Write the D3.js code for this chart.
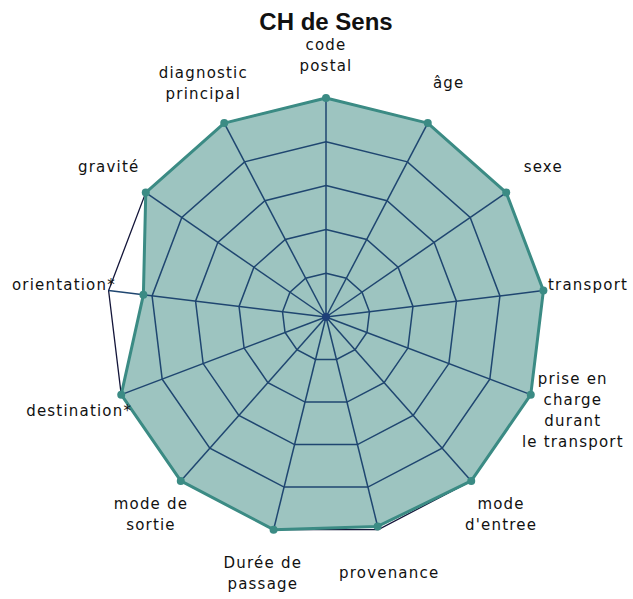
<!DOCTYPE html>
<html>
<head>
<meta charset="utf-8">
<script src="https://cdn.jsdelivr.net/npm/d3@7"></script>
<style>
  body { margin: 0; background: #fff; }
  svg text { font-family: "DejaVu Sans", Verdana, sans-serif; }
</style>
</head>
<body>
<div id="chart"></div>
<script>
// chart data
const title = "CH de Sens";
const axisLabels = [
    ["code", "postal"],
    ["âge"],
    ["sexe"],
    ["transport"],
    ["prise en", "charge", "durant", "le transport"],
    ["mode", "d'entree"],
    ["provenance"],
    ["Durée de", "passage"],
    ["mode de", "sortie"],
    ["destination*"],
    ["orientation*"],
    ["gravité"],
    ["diagnostic", "principal"]
];
const values = [1, 1, 1, 1, 1, 1, 0.985, 1, 1, 1, 0.84, 1, 1];
const ringLevels = [0.2, 0.4, 0.6, 0.8, 1];

// dimensions
const width = 633;
const height = 599;
const cx = 326;
const cy = 317;
const radius = 219;
const labelGap = 45;
const lineHeight = 21;

const svg = d3.select("#chart")
    .append("svg")
    .attr("width", width)
    .attr("height", height);

const g = svg.append("g")
    .attr("transform", "translate(" + cx + "," + cy + ")");

const r = d3.scaleLinear().domain([0, 1]).range([0, radius]);
const angle = d3.scaleLinear().domain([0, axisLabels.length]).range([0, 2 * Math.PI]);

const radial = d3.lineRadial()
    .angle(function (d, i) { return angle(i) })
    .radius(function (d) { return r(d) })
    .curve(d3.curveLinearClosed);

function point(i, v) {
    const a = angle(i);
    return [r(v) * Math.sin(a), -r(v) * Math.cos(a)];
}

// filled area
g.append("path")
    .datum(values)
    .attr("d", radial)
    .attr("fill", "#9dc4c0");

// grid rings
g.selectAll(".ring")
    .data(ringLevels).enter()
    .append("path")
    .attr("class", "ring")
    .attr("d", function (lv) { return radial(axisLabels.map(function () { return lv })) })
    .attr("fill", "none")
    .attr("stroke", function (lv) { return lv === 1 ? "#14163a" : "#1f4670" })
    .attr("stroke-width", function (lv) { return lv === 1 ? 1.3 : 1.5 });

// spokes
g.selectAll(".spoke")
    .data(axisLabels).enter()
    .append("line")
    .attr("class", "spoke")
    .attr("x1", 0).attr("y1", 0)
    .attr("x2", function (d, i) { return point(i, 1)[0] })
    .attr("y2", function (d, i) { return point(i, 1)[1] })
    .attr("stroke", "#1f4670")
    .attr("stroke-width", 1.5);

g.append("circle").attr("r", 4).attr("fill", "#1d3f78");

// series outline and markers
g.append("path")
    .datum(values)
    .attr("d", radial)
    .attr("fill", "none")
    .attr("stroke", "#3b8b84")
    .attr("stroke-width", 3)
    .attr("stroke-linejoin", "round");

g.selectAll(".dot")
    .data(values).enter()
    .append("circle")
    .attr("class", "dot")
    .attr("cx", function (d, i) { return point(i, d)[0] })
    .attr("cy", function (d, i) { return point(i, d)[1] })
    .attr("r", 4)
    .attr("fill", "#3b8b84");

// axis labels
const labels = g.selectAll(".label")
    .data(axisLabels).enter()
    .append("text")
    .attr("class", "label")
    .attr("text-anchor", "middle")
    .style("font-size", "15px")
    .style("letter-spacing", "1.2px")
    .attr("fill", "#111");

labels.each(function (lines, i) {
    const a = angle(i);
    const lx = (radius + labelGap) * Math.sin(a);
    const ly = -(radius + labelGap) * Math.cos(a);
    // top label sits a touch lower so it clears the title
    const top = ly - (lines.length - 1) * lineHeight / 2 + 5 + (i === 0 ? 2 : 0);
    d3.select(this).selectAll("tspan")
        .data(lines).enter()
        .append("tspan")
        .attr("x", lx)
        .attr("y", function (d, k) { return top + k * lineHeight })
        .text(function (d) { return d });
});

// title
svg.append("text")
    .attr("x", cx)
    .attr("y", 30)
    .attr("text-anchor", "middle")
    .style("font-family", "'Liberation Sans', Arial, sans-serif")
    .style("font-weight", "bold")
    .style("font-size", "24px")
    .attr("fill", "#111")
    .text(title);
</script>
</body>
</html>
